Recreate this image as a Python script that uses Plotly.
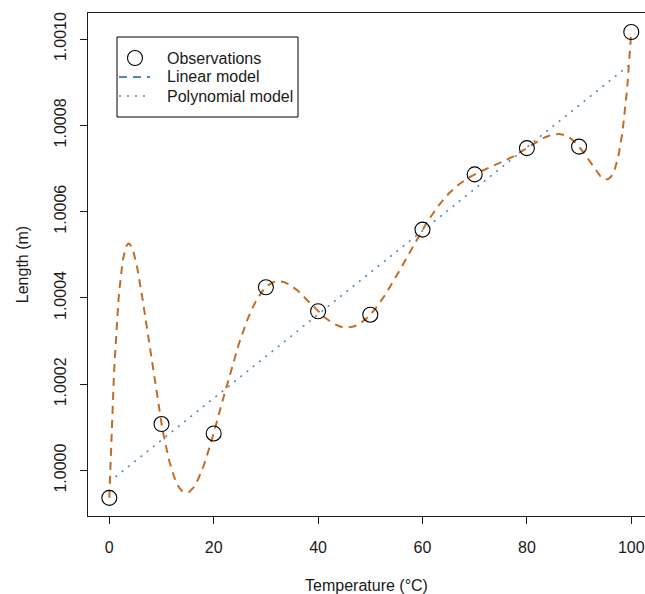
import numpy as np
import plotly.graph_objects as go

# Observations
temperature = [0, 10, 20, 30, 40, 50, 60, 70, 80, 90, 100]
length_m = [0.9999367, 1.0001077, 1.0000859, 1.0004247, 1.0003691, 1.0003611,
            1.0005583, 1.0006863, 1.0007472, 1.0007507, 1.0010162]

x_ticks = [0, 20, 40, 60, 80, 100]
x_tick_labels = ["0", "20", "40", "60", "80", "100"]
y_ticks = [1.0000, 1.0002, 1.0004, 1.0006, 1.0008, 1.0010]
y_tick_labels = ["1.0000", "1.0002", "1.0004", "1.0006", "1.0008", "1.0010"]
legend_labels = ["Observations", "Linear model", "Polynomial model"]

x = np.array(temperature, dtype=float)
y = np.array(length_m, dtype=float)

# Fitted models: linear, and degree-10 polynomial through the observations
lin = np.polynomial.Polynomial.fit(x, y, 1)
poly = np.polynomial.Polynomial.fit(x, y - 1.0, len(x) - 1)
xs = np.linspace(x.min(), x.max(), 800)

ORANGE = "#C56C24"
BLUE = "#4A86C8"
INK = "#1A1A1A"
FONT = "Liberation Sans, Arial, Helvetica, sans-serif"

W, H = 645, 594
ML, MR, MT, MB = 88, 0, 13, 78
PW, PH = W - ML - MR, H - MT - MB

def px(v):  # pixel column -> paper x
    return (v - ML) / PW

def py(v):  # pixel row -> paper y
    return (H - MB - v) / PH

fig = go.Figure()
fig.add_trace(go.Scatter(x=xs, y=lin(xs), mode="lines", showlegend=False,
                         line=dict(color=BLUE, width=1.6, dash="2px,6px")))
fig.add_trace(go.Scatter(x=xs, y=poly(xs) + 1.0, mode="lines", showlegend=False,
                         line=dict(color=ORANGE, width=2, dash="8px,6px")))
fig.add_trace(go.Scatter(x=x, y=y, mode="markers", showlegend=False,
                         marker=dict(symbol="circle-open", size=15,
                                     color="black", line=dict(width=1.1))))

# Legend (drawn as in the reference, including its line styles)
shapes = [
    dict(type="rect", xref="paper", yref="paper", x0=px(117), x1=px(298),
         y0=py(117), y1=py(37), line=dict(color="black", width=1),
         fillcolor="white", layer="above"),
    dict(type="circle", xref="paper", yref="paper", x0=px(127.5), x1=px(142.5),
         y0=py(65.5), y1=py(50.5), line=dict(color="black", width=1.1), layer="above"),
    dict(type="line", xref="paper", yref="paper", x0=px(119), x1=px(150),
         y0=py(77), y1=py(77), line=dict(color=BLUE, width=2, dash="8px,6px"), layer="above"),
    dict(type="line", xref="paper", yref="paper", x0=px(119), x1=px(150),
         y0=py(96), y1=py(96), line=dict(color=ORANGE, width=1.6, dash="2px,6px"), layer="above"),
]
for lab, row in zip(legend_labels, [58, 77, 96]):
    fig.add_annotation(text=lab, xref="paper", yref="paper", x=px(165), y=py(row),
                       xanchor="left", yanchor="middle", showarrow=False,
                       font=dict(size=16, color=INK))

fig.update_layout(
    width=W, height=H,
    margin=dict(l=ML, r=MR, t=MT, b=MB, autoexpand=False),
    paper_bgcolor="white", plot_bgcolor="white",
    font=dict(family=FONT, size=16, color=INK),
    showlegend=False,
    hovermode=False,
    shapes=shapes,
    xaxis=dict(range=[-4.08, 102.63], tickvals=x_ticks, ticktext=x_tick_labels,
               showgrid=False, zeroline=False, showline=True, linecolor=INK,
               linewidth=1, mirror=True, ticks="outside", ticklen=7,
               tickcolor=INK, automargin=False, tickfont=dict(size=16),
               ticklabelstandoff=10,
               title=dict(text="Temperature (°C)", standoff=24, font=dict(size=16))),
    yaxis=dict(range=[0.9998946, 1.0010603], tickvals=y_ticks, ticktext=y_tick_labels,
               showgrid=False, zeroline=False, showline=True, linecolor=INK,
               linewidth=1, ticks="outside", ticklen=7, tickcolor=INK,
               tickangle=-90, automargin=False, tickfont=dict(size=16),
               ticklabelstandoff=8,
               title=dict(text="Length (m)", standoff=18, font=dict(size=16))),
)

fig.write_html("out.html", config={"displayModeBar": False},
               post_script="document.body.style.margin='0';")
